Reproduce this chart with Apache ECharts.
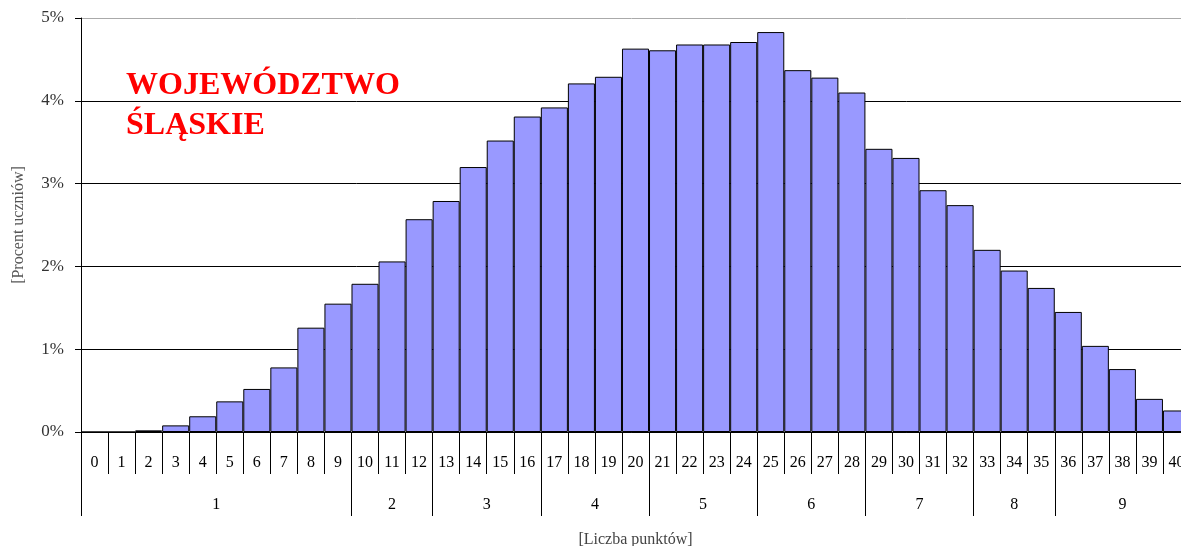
<!DOCTYPE html>
<html>
<head>
<meta charset="utf-8">
<title>Województwo śląskie</title>
<script src="https://cdn.jsdelivr.net/npm/echarts@6/dist/echarts.min.js"></script>
<style>
  html, body { margin: 0; padding: 0; background: #fff; }
  #chart1 { width: 1181px; height: 546px; }
</style>
</head>
<body>
<div id="chart1"></div>
<script type="text/javascript">
// punkty 0..40
var points = [];
for (var i = 0; i <= 40; i++) points.push(String(i));

// procent uczniów dla każdej liczby punktów
var percent = [0, 0, 0.02, 0.08, 0.19, 0.37, 0.52, 0.78, 1.26, 1.55,
               1.79, 2.06, 2.57, 2.79, 3.20, 3.52, 3.81, 3.92, 4.21, 4.29,
               4.63, 4.61, 4.68, 4.68, 4.71, 4.83, 4.37, 4.28, 4.10, 3.42,
               3.31, 2.92, 2.74, 2.20, 1.95, 1.74, 1.45, 1.04, 0.76, 0.40,
               0.26];

// staniny: granice i środki przedziałów (w jednostkach punktów)
var stanineNames = ['1', '2', '3', '4', '5', '6', '7', '8', '9'];
var stanineBounds = [-0.5, 9.5, 12.5, 16.5, 20.5, 24.5, 28.5, 32.5, 35.5, 40.5];
var stanineCenters = [4.5, 11, 14.5, 18.5, 22.5, 26.5, 30.5, 34, 38];

var yTicks = [0, 1, 2, 3, 4, 5];

var serif = 'Liberation Serif';
var myChart = echarts.init(document.getElementById('chart1'));

var option = {
    animation: false,
    title: {
        text: 'WOJEWÓDZTWO\nŚLĄSKIE',
        left: 121,
        top: 61,
        textStyle: {
            color: '#ff0000',
            fontFamily: serif,
            fontWeight: 'bold',
            fontSize: 32,
            lineHeight: 40
        }
    },
    grid: { left: 81, top: 18, width: 1109, height: 414, outerBoundsMode: 'none', containLabel: false },
    xAxis: [{
        type: 'category',
        data: points,
        boundaryGap: true,
        axisLine: { onZero: false, lineStyle: { color: '#000', width: 1 } },
        axisTick: { show: true, interval: 0, length: 42, lineStyle: { color: '#000' } },
        axisLabel: { interval: 0, margin: 23, color: '#000', fontFamily: serif, fontSize: 16 },
        name: '[Liczba punktów]',
        nameLocation: 'middle',
        nameGap: 100,
        nameTextStyle: { color: '#444', fontFamily: serif, fontSize: 16 }
    }, {
        type: 'value',
        position: 'bottom',
        min: -0.5,
        max: 40.5,
        axisLine: { show: false, onZero: false },
        splitLine: { show: false },
        axisTick: {
            show: true,
            customValues: stanineBounds,
            length: 84,
            lineStyle: { color: '#000' }
        },
        axisLabel: {
            customValues: stanineCenters,
            margin: 65,
            color: '#000',
            fontFamily: serif,
            fontSize: 16,
            formatter: function (v) {
                return stanineNames[stanineCenters.indexOf(v)];
            }
        }
    }],
    yAxis: {
        type: 'value',
        min: yTicks[0],
        max: yTicks[yTicks.length - 1],
        interval: 1,
        axisLine: { show: true, onZero: false, lineStyle: { color: '#000' } },
        axisTick: { show: true, length: 6, lineStyle: { color: '#000' } },
        axisLabel: { formatter: '{value}%', margin: 17, color: '#333', fontFamily: serif, fontSize: 17 },
        splitLine: {
            show: true,
            lineStyle: { color: ['#000', '#000', '#000', '#000', '#000', '#aaa'], width: 1 }
        },
        name: '[Procent uczniów]',
        nameLocation: 'middle',
        nameGap: 54,
        nameTextStyle: { color: '#555', fontFamily: serif, fontSize: 16 }
    },
    series: [{
        type: 'bar',
        xAxisIndex: 0,
        data: percent,
        barWidth: '100%',
        barCategoryGap: 0,
        itemStyle: { color: '#9999ff', borderColor: '#000', borderWidth: 1 }
    }]
};

myChart.setOption(option);
</script>
</body>
</html>
